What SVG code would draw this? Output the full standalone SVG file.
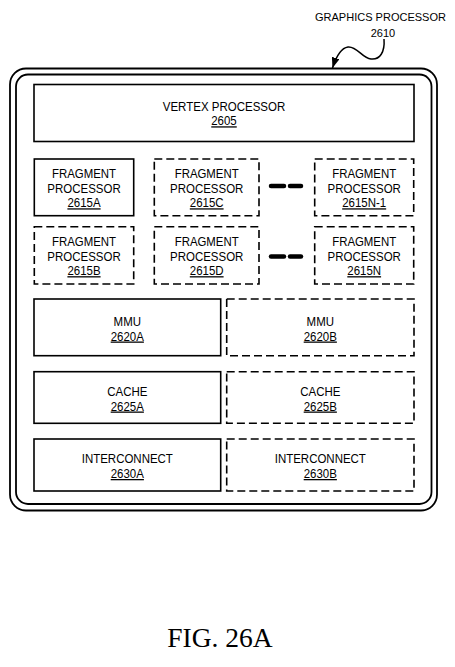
<svg xmlns="http://www.w3.org/2000/svg" width="455" height="667" viewBox="0 0 455 667">
<style>
.frame{fill:none;stroke:#000;stroke-width:1.8}
.box{fill:#fff;stroke:#000;stroke-width:1.6}
.dash{fill:#fff;stroke:#000;stroke-width:1.6;stroke-dasharray:8 4}
.t{font-family:"Liberation Sans Narrow","Liberation Sans",Arial,sans-serif;font-size:12.8px;fill:#000;text-anchor:middle}
.lab{font-size:11.6px}
.u{text-decoration:underline}
.dots{stroke:#000;stroke-width:4.5;stroke-linecap:round}
.fig{font-family:"Liberation Serif","Times New Roman",serif;font-size:27.5px;fill:#000;text-anchor:middle}
</style>
<defs>
<marker id="ah" markerUnits="userSpaceOnUse" markerWidth="11" markerHeight="8" refX="10.5" refY="4" orient="auto">
<path d="M0,0 L10.5,4 L0,8 z" fill="#000"/>
</marker>
</defs>
<rect width="455" height="667" fill="#fff"/>

<g id="graphics-processor">
<rect class="frame" x="10" y="68.5" width="427" height="442" rx="16"/>
<rect class="frame" x="16" y="74.5" width="415.5" height="429.5" rx="12"/>
<text class="t lab" x="380.5" y="20.5" textLength="131" lengthAdjust="spacingAndGlyphs">GRAPHICS PROCESSOR</text>
<text class="t lab" x="383" y="37" textLength="24.5" lengthAdjust="spacingAndGlyphs">2610</text>
</g>

<g id="connectors">
<path d="M384 39 C385 52,380 60,371 59 C362 58,357 46,348 47 C341 48,336 57,332.5 68" fill="none" stroke="#000" stroke-width="1.5" marker-end="url(#ah)"/>
<line class="dots" x1="271" y1="186" x2="284" y2="186"/>
<line class="dots" x1="290" y1="186" x2="301" y2="186"/>
<line class="dots" x1="271" y1="256.5" x2="284" y2="256.5"/>
<line class="dots" x1="290" y1="256.5" x2="301" y2="256.5"/>
</g>

<g id="vertex-2605">
<rect class="box" x="34" y="84.5" width="380" height="57"/>
<text class="t" x="224" y="111" textLength="122.5" lengthAdjust="spacingAndGlyphs">VERTEX PROCESSOR</text>
<text class="t u" x="224" y="125.3" textLength="25.5" lengthAdjust="spacingAndGlyphs">2605</text>
</g>

<g id="frag-2615A">
<rect class="box" x="34.3" y="159" width="99.4" height="56.7"/>
<text class="t" x="84" y="178.3" textLength="64" lengthAdjust="spacingAndGlyphs">FRAGMENT</text>
<text class="t" x="84" y="192.7" textLength="73.4" lengthAdjust="spacingAndGlyphs">PROCESSOR</text>
<text class="t u" x="84" y="207.3" textLength="33.2" lengthAdjust="spacingAndGlyphs">2615A</text>
</g>
<g id="frag-2615C">
<rect class="dash" x="154.3" y="159" width="104.7" height="56.7"/>
<text class="t" x="206.7" y="178.3" textLength="64" lengthAdjust="spacingAndGlyphs">FRAGMENT</text>
<text class="t" x="206.7" y="192.7" textLength="73.4" lengthAdjust="spacingAndGlyphs">PROCESSOR</text>
<text class="t u" x="206.7" y="207.3" textLength="33.8" lengthAdjust="spacingAndGlyphs">2615C</text>
</g>
<g id="frag-2615N-1">
<rect class="dash" x="314.7" y="159" width="99" height="56.7"/>
<text class="t" x="364.2" y="178.3" textLength="64" lengthAdjust="spacingAndGlyphs">FRAGMENT</text>
<text class="t" x="364.2" y="192.7" textLength="73.4" lengthAdjust="spacingAndGlyphs">PROCESSOR</text>
<text class="t u" x="364.2" y="207.3" textLength="44" lengthAdjust="spacingAndGlyphs">2615N-1</text>
</g>
<g id="frag-2615B">
<rect class="dash" x="34.3" y="226.7" width="99.4" height="57.3"/>
<text class="t" x="84" y="246.2" textLength="64" lengthAdjust="spacingAndGlyphs">FRAGMENT</text>
<text class="t" x="84" y="260.6" textLength="73.4" lengthAdjust="spacingAndGlyphs">PROCESSOR</text>
<text class="t u" x="84" y="275.2" textLength="33.2" lengthAdjust="spacingAndGlyphs">2615B</text>
</g>
<g id="frag-2615D">
<rect class="dash" x="154.3" y="226.7" width="104.7" height="57.3"/>
<text class="t" x="206.7" y="246.2" textLength="64" lengthAdjust="spacingAndGlyphs">FRAGMENT</text>
<text class="t" x="206.7" y="260.6" textLength="73.4" lengthAdjust="spacingAndGlyphs">PROCESSOR</text>
<text class="t u" x="206.7" y="275.2" textLength="33.8" lengthAdjust="spacingAndGlyphs">2615D</text>
</g>
<g id="frag-2615N">
<rect class="dash" x="314.7" y="226.7" width="99" height="57.3"/>
<text class="t" x="364.2" y="246.2" textLength="64" lengthAdjust="spacingAndGlyphs">FRAGMENT</text>
<text class="t" x="364.2" y="260.6" textLength="73.4" lengthAdjust="spacingAndGlyphs">PROCESSOR</text>
<text class="t u" x="364.2" y="275.2" textLength="33.8" lengthAdjust="spacingAndGlyphs">2615N</text>
</g>

<g id="mmu-2620A">
<rect class="box" x="34" y="299" width="186.7" height="56.7"/>
<text class="t" x="127.3" y="325.5" textLength="27.4" lengthAdjust="spacingAndGlyphs">MMU</text>
<text class="t u" x="127.3" y="340.5" textLength="33.2" lengthAdjust="spacingAndGlyphs">2620A</text>
</g>
<g id="mmu-2620B">
<rect class="dash" x="226.7" y="299" width="187.3" height="56.7"/>
<text class="t" x="320.3" y="325.5" textLength="27.4" lengthAdjust="spacingAndGlyphs">MMU</text>
<text class="t u" x="320.3" y="340.5" textLength="33.2" lengthAdjust="spacingAndGlyphs">2620B</text>
</g>
<g id="cache-2625A">
<rect class="box" x="34" y="371.7" width="186.7" height="51.6"/>
<text class="t" x="127.3" y="395.5" textLength="40.2" lengthAdjust="spacingAndGlyphs">CACHE</text>
<text class="t u" x="127.3" y="410.5" textLength="33.2" lengthAdjust="spacingAndGlyphs">2625A</text>
</g>
<g id="cache-2625B">
<rect class="dash" x="226.7" y="371.7" width="187.3" height="51.6"/>
<text class="t" x="320.3" y="395.5" textLength="40.2" lengthAdjust="spacingAndGlyphs">CACHE</text>
<text class="t u" x="320.3" y="410.5" textLength="33.2" lengthAdjust="spacingAndGlyphs">2625B</text>
</g>
<g id="interconnect-2630A">
<rect class="box" x="34" y="439" width="186.7" height="52"/>
<text class="t" x="127.3" y="463" textLength="91.2" lengthAdjust="spacingAndGlyphs">INTERCONNECT</text>
<text class="t u" x="127.3" y="478" textLength="33.2" lengthAdjust="spacingAndGlyphs">2630A</text>
</g>
<g id="interconnect-2630B">
<rect class="dash" x="226.7" y="439" width="187.3" height="52"/>
<text class="t" x="320.3" y="463" textLength="91.2" lengthAdjust="spacingAndGlyphs">INTERCONNECT</text>
<text class="t u" x="320.3" y="478" textLength="33.2" lengthAdjust="spacingAndGlyphs">2630B</text>
</g>

<text class="fig" x="220" y="646.5">FIG. 26A</text>
</svg>
